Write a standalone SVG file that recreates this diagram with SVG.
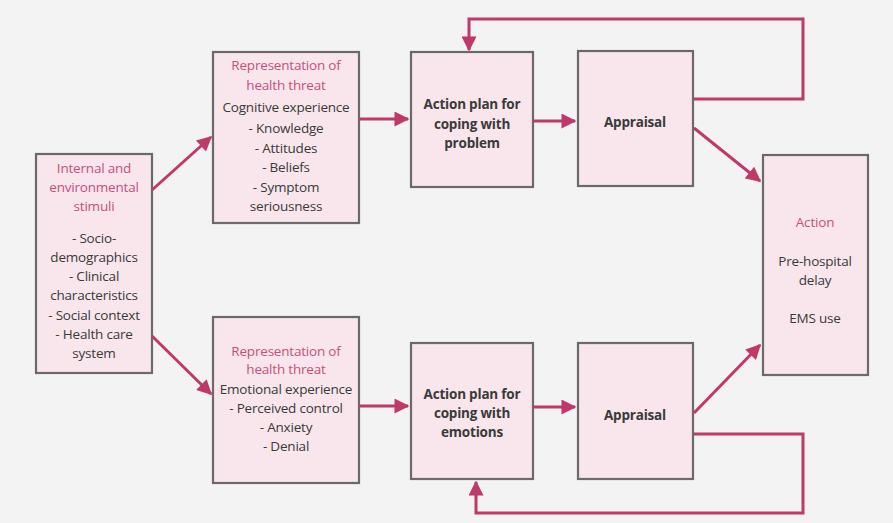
<svg xmlns="http://www.w3.org/2000/svg" width="893" height="523" viewBox="0 0 893 523">
<defs>
<marker id="ah" viewBox="0 0 10 10" refX="9" refY="5" markerWidth="5.5" markerHeight="5" markerUnits="strokeWidth" orient="auto">
<path d="M0,0 L10,5 L0,10 z" fill="#c0396b"/>
</marker>
<style>
.box{fill:#f8e6ec;stroke:#6a6a6a;stroke-width:2.2}
.t{font-family:"Open Sans","Liberation Sans",sans-serif;font-size:13.5px;text-anchor:middle;fill:#3a3a3a;letter-spacing:-0.2px}
.h{fill:#c4507f}
.b{font-weight:bold}
.c{fill:none;stroke:#c0396b;stroke-width:3;marker-end:url(#ah)}
</style>
</defs>
<rect width="893" height="523" fill="#f3f3f3"/>
<g id="stimuli">
<rect class="box" x="36" y="154" width="116" height="219"/>
<text class="t h" x="94" y="173">Internal and</text>
<text class="t h" x="94" y="192">environmental</text>
<text class="t h" x="94" y="211">stimuli</text>
<text class="t" x="94" y="243">- Socio-</text>
<text class="t" x="94" y="262">demographics</text>
<text class="t" x="94" y="281">- Clinical</text>
<text class="t" x="94" y="300">characteristics</text>
<text class="t" x="94" y="320">- Social context</text>
<text class="t" x="94" y="339">- Health care</text>
<text class="t" x="94" y="358">system</text>
</g>
<g id="rep-cognitive">
<rect class="box" x="213" y="52" width="146" height="171"/>
<text class="t h" x="286" y="70">Representation of</text>
<text class="t h" x="286" y="90">health threat</text>
<text class="t" x="286" y="112">Cognitive experience</text>
<text class="t" x="286" y="133">- Knowledge</text>
<text class="t" x="286" y="153">- Attitudes</text>
<text class="t" x="286" y="172">- Beliefs</text>
<text class="t" x="286" y="192">- Symptom</text>
<text class="t" x="286" y="211">seriousness</text>
</g>
<g id="rep-emotional">
<rect class="box" x="213" y="317" width="146" height="166"/>
<text class="t h" x="286" y="356">Representation of</text>
<text class="t h" x="286" y="374">health threat</text>
<text class="t" x="286" y="394">Emotional experience</text>
<text class="t" x="286" y="413">- Perceived control</text>
<text class="t" x="286" y="432">- Anxiety</text>
<text class="t" x="286" y="451">- Denial</text>
</g>
<g id="plan-problem">
<rect class="box" x="411" y="52" width="122" height="135"/>
<text class="t b" x="472" y="109">Action plan for</text>
<text class="t b" x="472" y="129">coping with</text>
<text class="t b" x="472" y="148">problem</text>
</g>
<g id="appraisal-top">
<rect class="box" x="578" y="51" width="115" height="135"/>
<text class="t b" x="635" y="127">Appraisal</text>
</g>
<g id="plan-emotions">
<rect class="box" x="411" y="343" width="122" height="136"/>
<text class="t b" x="472" y="399">Action plan for</text>
<text class="t b" x="472" y="418">coping with</text>
<text class="t b" x="472" y="437">emotions</text>
</g>
<g id="appraisal-bottom">
<rect class="box" x="578" y="343" width="115" height="136"/>
<text class="t b" x="635" y="420">Appraisal</text>
</g>
<g id="action">
<rect class="box" x="763" y="155" width="105" height="220"/>
<text class="t h" x="815" y="227">Action</text>
<text class="t" x="815" y="266">Pre-hospital</text>
<text class="t" x="815" y="285">delay</text>
<text class="t" x="815" y="323">EMS use</text>
</g>
<g id="connectors">
<line class="c" x1="152" y1="190" x2="211" y2="137"/>
<line class="c" x1="152" y1="336" x2="211" y2="394"/>
<line class="c" x1="359" y1="119" x2="408" y2="119"/>
<line class="c" x1="359" y1="406" x2="408" y2="406"/>
<line class="c" x1="533" y1="121" x2="575" y2="121"/>
<line class="c" x1="533" y1="407" x2="575" y2="407"/>
<line class="c" x1="694" y1="128" x2="760" y2="181"/>
<line class="c" x1="694" y1="413" x2="760" y2="345"/>
<polyline class="c" points="694,99 803,99 803,19 469,19 469,50"/>
<polyline class="c" points="694,434 803,434 803,513 476,513 476,482"/>
</g>
</svg>
